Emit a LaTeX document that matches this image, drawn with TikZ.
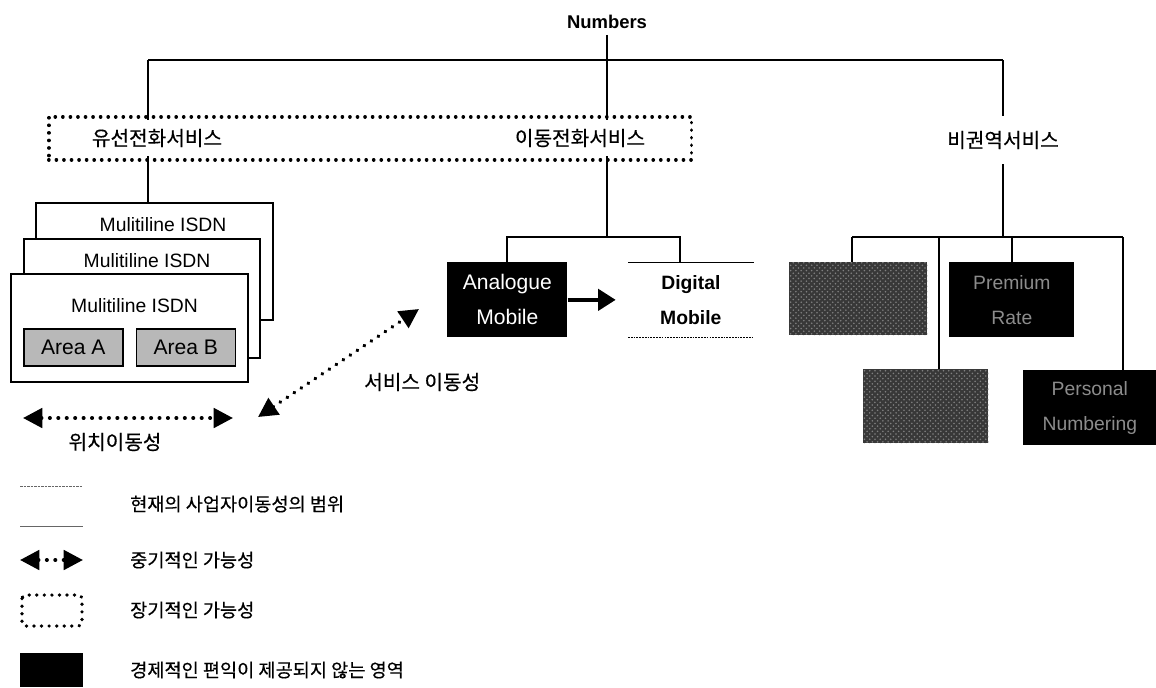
\documentclass[tikz,border=0pt]{standalone}
\usepackage{fontspec}
\setmainfont{Liberation Sans}
\newfontfamily\kr[FakeBold=0.4]{Noto Sans CJK KR}
\usetikzlibrary{arrows.meta, positioning, patterns}

\begin{document}
\begin{tikzpicture}[x=0.02cm, y=-0.02cm,
      every node/.style={font=\fontsize{11}{13}\selectfont},
      ko/.style={font=\kr\fontsize{11.5}{13}\selectfont},
      key/.style={anchor=west, font=\kr\fontsize{10.6}{13}\selectfont},
      tree/.style={line width=1.1pt},
      isdn/.style={draw, line width=0.9pt, fill=white, anchor=north west, minimum width=4.74cm},
      area/.style={draw, line width=0.9pt, fill=black!28, minimum width=1.98cm, minimum height=0.74cm,
                  font=\fontsize{12}{14}\selectfont},
      darkbox/.style={fill=black, anchor=north west, minimum width=2.5cm, minimum height=1.5cm,
                  align=center, font=\fontsize{11}{20}\selectfont},
      grainbox/.style={anchor=north west, minimum height=1.46cm, preaction={fill=black!78},
                  pattern=crosshatch dots, pattern color=black!50},
      longterm/.style={draw, line width=2pt, line cap=round, dash pattern=on 0.1pt off 4.2pt},
      midterm/.style={{Triangle[length=11pt, width=11pt]}-{Triangle[length=11pt, width=11pt]},
                  line width=2.2pt, line cap=round, dash pattern=on 0.1pt off 4.7pt},
      bigarrow/.style={-{Triangle[length=10pt, width=12pt]}, line width=2.3pt}]

    \useasboundingbox (0,0) rectangle (1156,687);

    \node[font=\bfseries\fontsize{10.5}{13}\selectfont] (num) at (607,22) {Numbers};
    \node[longterm, anchor=north west, minimum width=12.86cm, minimum height=0.86cm] (longbox) at (47,115) {};
    \node[ko] (wired) at (157,138) {유선전화서비스};
    \node[ko] (mobsvc) at (580,138) {이동전화서비스};
    \node[ko, minimum height=0.96cm] (nonreg) at (1003,140) {비권역서비스};

    \node[isdn, minimum height=2.34cm, label={[anchor=north, yshift=-5pt, xshift=5pt]north:Mulitiline ISDN}] (isdnA) at (35,202) {};
    \node[isdn, minimum width=4.72cm, minimum height=2.38cm, label={[anchor=north, yshift=-5pt, xshift=3pt]north:Mulitiline ISDN}] (isdnB) at (23,238) {};
    \node[isdn, minimum height=2.16cm, label={[anchor=north, yshift=-11pt, xshift=3pt]north:Mulitiline ISDN}] (isdnC) at (10,273) {};
    \node[area, anchor=north west] (areaA) at (23,328) {Area A};
    \node[area, right=0.24cm of areaA] (areaB) {Area B};

    \node[darkbox, text=white, minimum width=2.4cm, font=\fontsize{12}{20}\selectfont] (analog) at (447,262) {Analogue\\Mobile};
    \node[anchor=north west, minimum width=2.5cm, minimum height=1.5cm, align=center,
          font=\bfseries\fontsize{11}{20}\selectfont] (digital) at (628,262) {Digital\\Mobile};

    \node[grainbox, minimum width=2.76cm] (nr1) at (789,262) {};
    \node[darkbox, text=black!45] (premium) at (949,262) {Premium\\Rate};
    \node[grainbox, minimum width=2.5cm, minimum height=1.48cm] (nr3) at (863,369) {};
    \node[darkbox, text=black!45, minimum width=2.66cm] (personal) at (1023,370) {Personal\\Numbering};

    \coordinate (lj) at (148,60);
    \coordinate (rj) at (1003,60);
    \coordinate (mj) at (607,237);
    \coordinate (dj) at (680,237);
    \coordinate (rb1) at (852,237);
    \coordinate (rb2) at (939,237);
    \coordinate (rb3) at (1012,237);
    \coordinate (rb4) at (1123,237);

    \draw[tree] (lj) -- (rj);
    \draw[tree] (num.south) -- ([yshift=-3pt]num.south |- longbox.north);
    \draw[tree] (lj) -- ([yshift=-3pt]lj |- longbox.north);
    \draw[tree] (rj) -- (nonreg.north);
    \draw[tree] ([yshift=3pt]lj |- longbox.south) -- (lj |- isdnA.north);
    \draw[tree] ([yshift=3pt]mj |- longbox.south) -- (mj);
    \draw[tree] (analog.north) |- (dj) -- (dj |- digital.north);
    \draw[thin] (digital.north west) -- (digital.north east);
    \draw[thin, dash pattern=on 1pt off 0.6pt] (digital.south west) -- (digital.south east);
    \draw[bigarrow] (analog.east) -- ([xshift=-7pt]digital.west);

    \draw[tree] (nonreg.south) -- (nonreg.south |- rb1);
    \draw[tree] (rb1) -- (rb4);
    \draw[tree] (rb1) -- (rb1 |- nr1.north);
    \draw[tree] (rb2) -- (rb2 |- nr3.north);
    \draw[tree] (rb3) -- (rb3 |- premium.north);
    \draw[tree] (rb4) -- (rb4 |- personal.north);

    \coordinate (locL) at (23,418);
    \coordinate (locR) at (233,418);
    \coordinate (svcL) at (258,417);
    \coordinate (svcR) at (419,309);
    \draw[midterm] (locL) -- (locR);
    \draw[midterm] (svcL) -- (svcR);
    \node[ko] (locmob) at (115,442) {위치이동성};
    \node[ko, anchor=west] (svcmob) at (358,382) {서비스 이동성};

    \draw[black!60, thin, dash pattern=on 1.5pt off 0.5pt] (20,486) -- (83,486);
    \draw[black!60, thin] (20,526) -- (83,526);
    \node[key] (key1) at (124,504) {현재의 사업자이동성의 범위};
    \draw[midterm] (20,560) -- (83,560);
    \node[key] (key2) at (124,560) {중기적인 가능성};
    \draw[longterm, rounded corners=2pt] (22,595) rectangle (82,626);
    \node[key] (key3) at (124,610) {장기적인 가능성};
    \fill (20,653) rectangle (83,687);
    \node[key] (key4) at (124,670) {경제적인 편익이 제공되지 않는 영역};
  \end{tikzpicture}
\end{document}
